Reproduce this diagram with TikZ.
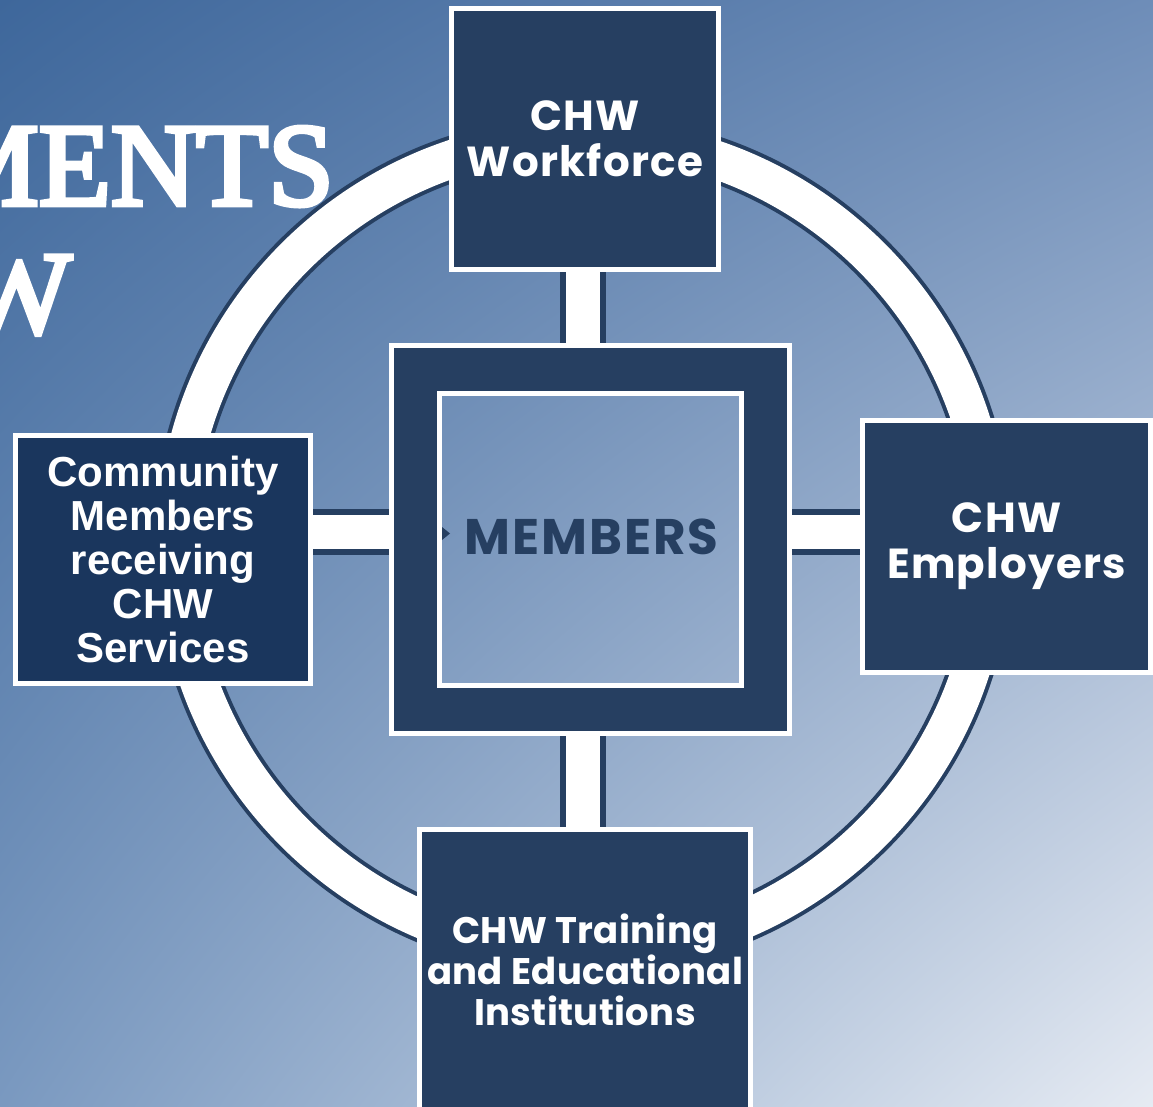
\documentclass[tikz,border=0pt]{standalone}
\usepackage{fontspec}
\usetikzlibrary{shadings}
\setmainfont{Liberation Serif}
\newfontfamily\popf{Poppins}
\newfontfamily\arialf{Liberation Sans}
\newfontfamily\titlef[FakeBold=4]{Liberation Serif}
\definecolor{navy}{HTML}{263F61}
\definecolor{navyL}{HTML}{1A365D}
\definecolor{bgTL}{HTML}{3E679B}
\definecolor{bgTR}{HTML}{6E8DB8}
\definecolor{bgBL}{HTML}{7A99C0}
\definecolor{bgBR}{HTML}{E6EBF3}
\pgfdeclarelayer{bg}
\pgfsetlayers{bg,main}
\tikzset{
  box/.style={draw=white, line width=5pt, fill=navy, text=white, align=center, inner sep=0pt},
  frame/.style={draw=white, line width=5pt, inner sep=0pt},
  conn/.style={draw=navy, line width=6pt, double=white, double distance=34pt},
  montlabel/.style={font=\popf\bfseries\addfontfeature{LetterSpace=3}\fontsize{42}{46}\selectfont},
  titletext/.style={anchor=base east, text=white, font=\titlef\fontsize{118}{118}\selectfont, inner sep=0pt},
}
\begin{document}
\begin{tikzpicture}[x=1pt,y=-1pt]
\path[use as bounding box] (0,0) rectangle (1153,1107);
\clip (0,0) rectangle (1153,1107);
\coordinate (hub) at (583,532);
\coordinate (ringc) at (583,545);
% hub frame fill
\fill[navy, even odd rule] (391.5,345.5) rectangle (789.5,733.5) (439.5,393.5) rectangle (741.5,685.5);
\fill[navy] (442,527) -- (450,533.5) -- (442,540) -- cycle;
\node[frame, minimum width=398pt, minimum height=388pt] (hubouter) at (590.5,539.5) {};
\node[frame, minimum width=302pt, minimum height=292pt] (hubinner) at (590.5,539.5) {};
\node[font=\popf\bfseries\addfontfeature{LetterSpace=4}\fontsize{50}{50}\selectfont, text=navy, inner sep=0pt] (members) at (591.5,537) {MEMBERS};
% outer boxes
\node[box, montlabel, minimum width=267pt, minimum height=261pt] (workforce) at (585,139) {CHW\\Workforce};
\node[box, montlabel, minimum width=288pt, minimum height=252pt] (employers) at (1006.5,546.5) {CHW\\Employers};
\node[box, font=\popf\bfseries\addfontfeature{LetterSpace=1}\fontsize{37}{41}\selectfont, minimum width=331pt, minimum height=280pt] (training) at (585,969.5) {CHW Training\\and Educational\\Institutions};
\node[box, fill=navyL, font=\arialf\bfseries\fontsize{42}{44}\selectfont, minimum width=295pt, minimum height=248pt] (community) at (163,559.5) {Community\\Members\\receiving\\CHW\\Services};
% title fragments
\node[titletext] (title1) at (334,205) {MENTS};
\node[titletext] (title2) at (72,333) {W};
\begin{pgfonlayer}{bg}
\shade[upper left=bgTL, upper right=bgTR, lower left=bgBL, lower right=bgBR] (0,0) rectangle (1153,1107);
\draw[navy, line width=46pt] (ringc) circle (407.5);
\draw[white, line width=38pt] (ringc) circle (407.5);
\draw[conn] (hub |- workforce.south) -- (hub |- hubouter.north);
\draw[conn] (hub |- hubouter.south) -- (hub |- training.north);
\draw[conn] (hub -| community.east) -- (hub -| hubouter.west);
\draw[conn] (hub -| hubouter.east) -- (hub -| employers.west);
\end{pgfonlayer}
\end{tikzpicture}
\end{document}
